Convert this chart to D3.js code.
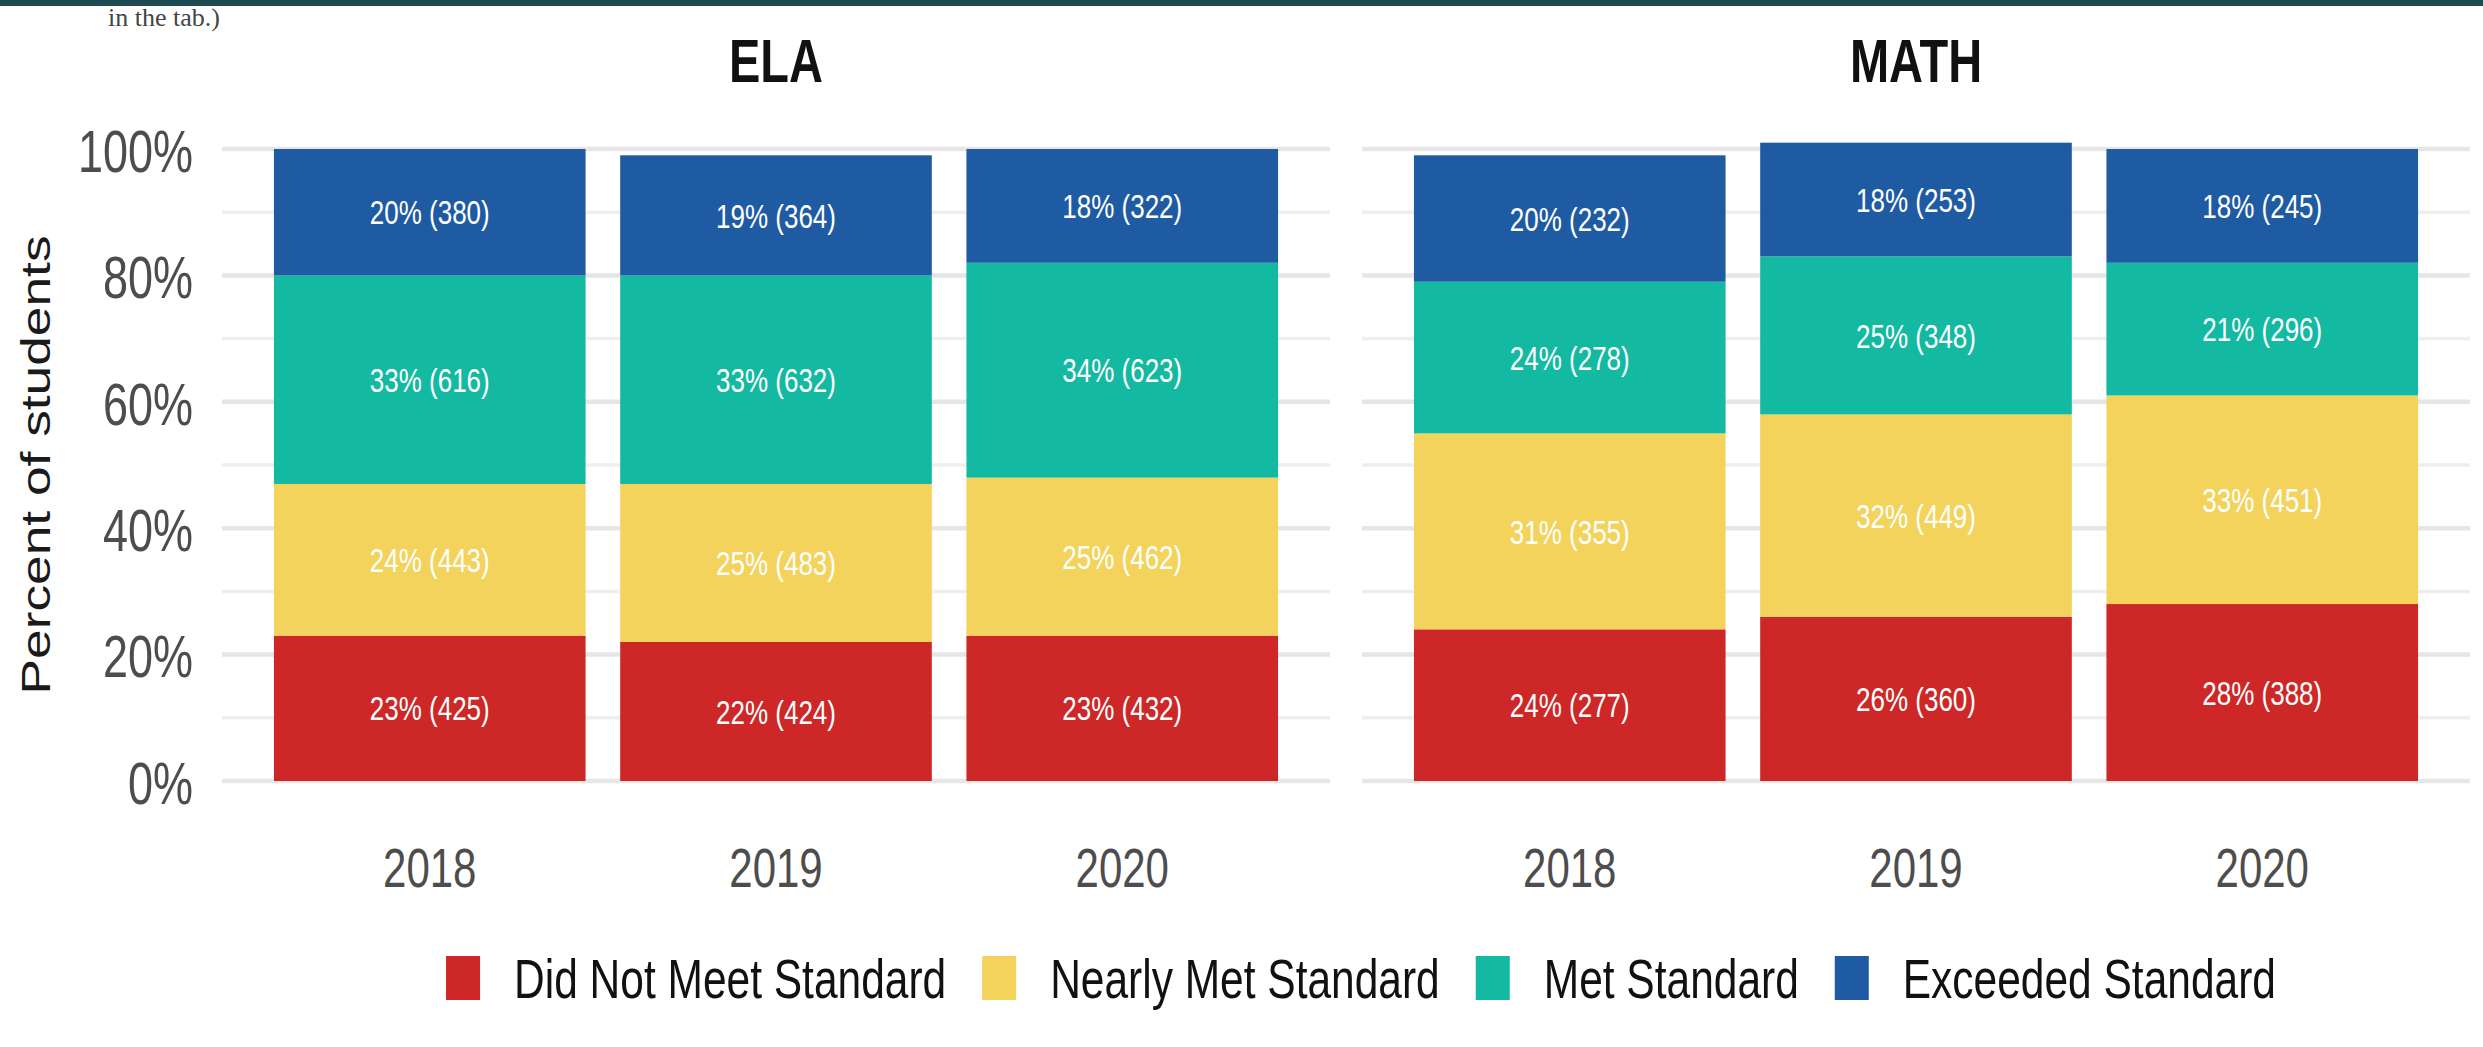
<!DOCTYPE html>
<meta charset="utf-8">
<style>
    body { margin: 0; background: #fff; }
    text { font-family: "Liberation Sans", Arial, sans-serif; }
</style>
<div id="chart"></div>
<script src="https://d3js.org/d3.v7.min.js"></script>
<script>

    // data
    var subjects = ["ELA", "MATH"];
    var years = ["2018", "2019", "2020"];
    var levels = ["Did Not Meet Standard", "Nearly Met Standard", "Met Standard", "Exceeded Standard"];
    var colors = ["#cd2727", "#f3d35c", "#14b9a2", "#1f5ba3"];

    // percent per level (rows) and year (columns)
    var elaPct = [[23, 22, 23], [24, 25, 25], [33, 33, 34], [20, 19, 18]];
    var elaN = [[425, 424, 432], [443, 483, 462], [616, 632, 623], [380, 364, 322]];
    var mathPct = [[24, 26, 28], [31, 32, 33], [24, 25, 21], [20, 18, 18]];
    var mathN = [[277, 360, 388], [355, 449, 451], [278, 348, 296], [232, 253, 245]];

    var yTicks = [0, 20, 40, 60, 80, 100];
    var yMinor = [10, 30, 50, 70, 90];

    // the source picture is stretched vertically, so text is too
    var S = 1.3;

    var W = 2483, H = 1047;
    var left = 222, panelW = 1108, panelGap = 32;

    var svg = d3.select("#chart").append("svg")
        .attr("width", W)
        .attr("height", H);

    // dark strip and small note at the very top
    svg.append("text")
        .attr("x", 220).attr("y", 26)
        .attr("text-anchor", "end")
        .style("font-family", "'Liberation Serif', serif")
        .style("font-size", "26px")
        .attr("fill", "#444")
        .text("in the tab.)");
    svg.append("rect").attr("width", W).attr("height", 6).attr("fill", "#1f4a50");

    var y = d3.scaleLinear().domain([0, 100]).range([781, 149]);
    var x = d3.scaleBand().domain(years).range([0, panelW])
        .paddingInner(0.1).paddingOuter(0.15);

    var tables = { ELA: [elaPct, elaN], MATH: [mathPct, mathN] };

    subjects.forEach(function (subj, si) {
        var g = svg.append("g")
            .attr("transform", "translate(" + (left + si * (panelW + panelGap)) + ",0)");

        // gridlines
        g.selectAll(".minor").data(yMinor).enter().append("line")
            .attr("x1", 0).attr("x2", panelW)
            .attr("y1", function (d) { return y(d); })
            .attr("y2", function (d) { return y(d); })
            .attr("stroke", "#eeeeee").attr("stroke-width", 3.5);
        g.selectAll(".major").data(yTicks).enter().append("line")
            .attr("x1", 0).attr("x2", panelW)
            .attr("y1", function (d) { return y(d); })
            .attr("y2", function (d) { return y(d); })
            .attr("stroke", "#e6e6e6").attr("stroke-width", 4.5);

        // stack the segments
        var pct = tables[subj][0], cnt = tables[subj][1];
        var segs = [];
        years.forEach(function (yr, j) {
            var base = 0;
            levels.forEach(function (lv, i) {
                segs.push({ year: yr, i: i, y0: base, y1: base + pct[i][j], p: pct[i][j], n: cnt[i][j] });
                base += pct[i][j];
            });
        });

        g.selectAll("rect.seg").data(segs).enter().append("rect")
            .attr("class", "seg")
            .attr("x", function (d) { return x(d.year); })
            .attr("width", x.bandwidth())
            .attr("y", function (d) { return y(d.y1); })
            .attr("height", function (d) { return y(d.y0) - y(d.y1); })
            .attr("fill", function (d) { return colors[d.i]; });

        g.selectAll("text.lab").data(segs).enter().append("text")
            .attr("class", "lab")
            .attr("transform", function (d) {
                return "translate(" + (x(d.year) + x.bandwidth() / 2) + "," + y((d.y0 + d.y1) / 2) + ") scale(1," + S + ")";
            })
            .attr("dy", "0.36em")
            .attr("text-anchor", "middle")
            .attr("fill", "#fff")
            .style("font-size", "26px")
            .text(function (d) { return d.p + "% (" + d.n + ")"; });

        // x axis
        var xa = g.append("g")
            .attr("transform", "translate(0," + y(0) + ")")
            .call(d3.axisBottom(x).tickSize(0));
        xa.select(".domain").remove();
        xa.selectAll("text")
            .attr("y", 106 / S).attr("dy", null)
            .attr("transform", "scale(1," + S + ")")
            .attr("fill", "#4d4d4d")
            .style("font-size", "42px");

        // y axis on the first panel only
        if (si === 0) {
            var ya = g.append("g")
                .call(d3.axisLeft(y).tickValues(yTicks).tickSize(0).tickPadding(29)
                    .tickFormat(function (d) { return d + "%"; }));
            ya.select(".domain").remove();
            ya.selectAll("text")
                .attr("dy", "0.38em")
                .attr("transform", "scale(1," + S + ")")
                .attr("fill", "#4d4d4d")
                .style("font-size", "45px");
        }

        // facet strip title
        g.append("text")
            .attr("transform", "translate(" + panelW / 2 + ",82) scale(1," + S + ")")
            .attr("text-anchor", "middle")
            .attr("fill", "#111")
            .style("font-size", "47px")
            .style("font-weight", "bold")
            .text(subj);
    });

    // y axis title
    svg.append("text")
        .attr("transform", "translate(50," + y(50) + ") rotate(-90) scale(" + S + ",1)")
        .attr("text-anchor", "middle")
        .attr("fill", "#1a1a1a")
        .style("font-size", "41px")
        .text("Percent of students");

    // legend
    var legY = 978, keyW = 34, keyH = 44, gapKey = 34, gapItem = 36;
    var leg = svg.append("g");
    var items = leg.selectAll("g").data(levels).enter().append("g");
    items.append("rect")
        .attr("width", keyW).attr("height", keyH)
        .attr("y", legY - keyH / 2)
        .attr("fill", function (d, i) { return colors[i]; });
    items.append("text")
        .attr("transform", "translate(" + (keyW + gapKey) + "," + legY + ") scale(1," + S + ")")
        .attr("dy", "0.36em")
        .attr("fill", "#111")
        .style("font-size", "42.5px")
        .text(function (d) { return d; });

    var widths = [];
    items.selectAll("text").each(function () { widths.push(this.getComputedTextLength()); });
    var total = d3.sum(widths) + levels.length * (keyW + gapKey) + (levels.length - 1) * gapItem;
    var cx = 1361 - total / 2;
    items.attr("transform", function (d, i) {
        var off = cx;
        for (var k = 0; k < i; k++) off += keyW + gapKey + widths[k] + gapItem;
        return "translate(" + off + ",0)";
    });

</script>
